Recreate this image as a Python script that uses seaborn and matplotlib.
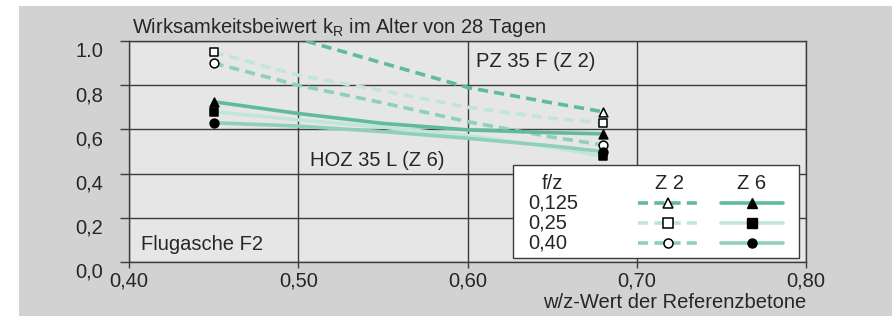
import matplotlib
matplotlib.use("Agg")
import matplotlib.pyplot as plt
import matplotlib.transforms as mtransforms
from matplotlib.patches import Rectangle
import numpy as np
import pandas as pd
import seaborn as sns

# Werte
wz = [0.45, 0.50, 0.55, 0.60, 0.65, 0.68]
z2_0125 = [1.14, 1.01, 0.90, 0.79, 0.72, 0.68]
z2_025 = [0.95, 0.845, 0.775, 0.70, 0.65, 0.63]
z2_040 = [0.90, 0.80, 0.72, 0.635, 0.565, 0.53]
z6_0125 = [0.725, 0.672, 0.627, 0.598, 0.585, 0.58]
z6_025 = [0.68, 0.643, 0.61, 0.572, 0.52, 0.478]
z6_040 = [0.63, 0.615, 0.59, 0.56, 0.525, 0.50]

fz_labels = ["0,125", "0,25", "0,40"]
x_ticks = [0.40, 0.50, 0.60, 0.70, 0.80]
x_ticklabels = ["0,40", "0,50", "0,60", "0,70", "0,80"]
y_ticks = [0.0, 0.2, 0.4, 0.6, 0.8, 1.0]
y_ticklabels = ["0,0", "0,2", "0,4", "0,6", "0,8", "1.0"]

colors = ["#5fba9e", "#c2e5da", "#8ed0bb"]
markers = ["^", "s", "o"]

sns.set_style("ticks")
plt.rcParams["font.family"] = ["Liberation Sans", "DejaVu Sans"]
plt.rcParams["font.size"] = 14.5

fig = plt.figure(figsize=(8.92, 3.16), dpi=100, facecolor="white")
fig.patches.append(Rectangle((19 / 892, 0), 1 - 19 / 892, 1 - 6 / 316,
                             transform=fig.transFigure, facecolor="#d2d2d2",
                             edgecolor="none", zorder=-10))
ax = fig.add_axes([129 / 892, 54 / 316, 677 / 892, 221 / 316])
ax.set_facecolor("#e6e6e6")

df = pd.DataFrame({"wz": wz, "z2_0125": z2_0125, "z2_025": z2_025, "z2_040": z2_040,
                   "z6_0125": z6_0125, "z6_025": z6_025, "z6_040": z6_040})

dash = (0, (2.8, 1.7))
series = [("z2_025", 1, dash, False), ("z2_040", 2, dash, False), ("z2_0125", 0, dash, False),
          ("z6_025", 1, "-", True), ("z6_040", 2, "-", True), ("z6_0125", 0, "-", True)]
for col, i, ls, filled in series:
    sns.lineplot(data=df, x="wz", y=col, ax=ax, color=colors[i], linewidth=2.6,
                 linestyle=ls, errorbar=None, zorder=3)
for col, i, ls, filled in series:
    ends = df.iloc[[0, -1]]
    sns.scatterplot(data=ends, x="wz", y=col, ax=ax, marker=markers[i], s=40,
                    color="black" if filled else "white", edgecolor="black",
                    linewidth=1.1, zorder=5)

ax.set_xlim(0.40, 0.80)
ax.set_ylim(0.0, 1.0)
ax.set_xticks(x_ticks)
ax.set_xticklabels(x_ticklabels)
ax.set_yticks(y_ticks)
ax.set_yticklabels(y_ticklabels)
ax.grid(True, color="#3c3c3c", linewidth=1.0)
ax.set_axisbelow(True)
for s in ax.spines.values():
    s.set_color("#3c3c3c")
    s.set_linewidth(1.0)
ax.tick_params(axis="y", length=6.5, width=1.0, color="#3c3c3c", pad=12, labelsize=14.5)
ax.tick_params(axis="x", length=4, width=1.0, color="#3c3c3c", pad=3, labelsize=14.5)
offset = mtransforms.ScaledTranslation(0, -6 / 72, fig.dpi_scale_trans)
for lab in ax.get_yticklabels():
    lab.set_transform(lab.get_transform() + offset)

ax.set_ylabel("")
ax.set_xlabel("w/z-Wert der Referenzbetone", fontsize=14.5, ha="right")
ax.xaxis.set_label_coords(1.0, -0.14)

ax.text(0.005, 1.01, "Wirksamkeitsbeiwert k$_\\mathregular{R}$ im Alter von 28 Tagen",
        transform=ax.transAxes, fontsize=14.5, va="bottom", ha="left")
ax.text(0.605, 0.905, "PZ 35 F (Z 2)", fontsize=14.5, va="center", ha="left")
ax.text(0.507, 0.46, "HOZ 35 L (Z 6)", fontsize=14.5, va="center", ha="left")
ax.text(0.407, 0.077, "Flugasche F2", fontsize=14.5, va="center", ha="left")

# Legende von Hand
ax.add_patch(Rectangle((0.567, 0.018), 0.423, 0.421, transform=ax.transAxes,
                       facecolor="white", edgecolor="#3c3c3c", linewidth=1.0, zorder=6))
ax.text(0.626, 0.357, "f/z", transform=ax.transAxes, ha="center", va="center", zorder=7)
ax.text(0.799, 0.357, "Z 2", transform=ax.transAxes, ha="center", va="center", zorder=7)
ax.text(0.920, 0.357, "Z 6", transform=ax.transAxes, ha="center", va="center", zorder=7)
row_y = [0.267, 0.176, 0.086]
for i, lab in enumerate(fz_labels):
    y = row_y[i]
    ax.text(0.589, y, lab, transform=ax.transAxes, ha="left", va="center", zorder=7)
    ax.plot([0.752, 0.840], [y, y], transform=ax.transAxes, color=colors[i],
            linewidth=2.6, linestyle=dash, zorder=7, clip_on=False)
    ax.plot([0.796], [y], transform=ax.transAxes, marker=markers[i], markersize=6.5,
            markerfacecolor="white", markeredgecolor="black", markeredgewidth=1.1,
            zorder=8, clip_on=False)
    ax.plot([0.874, 0.966], [y, y], transform=ax.transAxes, color=colors[i],
            linewidth=2.6, zorder=7, clip_on=False)
    ax.plot([0.920], [y], transform=ax.transAxes, marker=markers[i], markersize=6.5,
            markerfacecolor="black", markeredgecolor="black", zorder=8, clip_on=False)

fig.savefig("out.png", dpi=100, facecolor=fig.get_facecolor())
